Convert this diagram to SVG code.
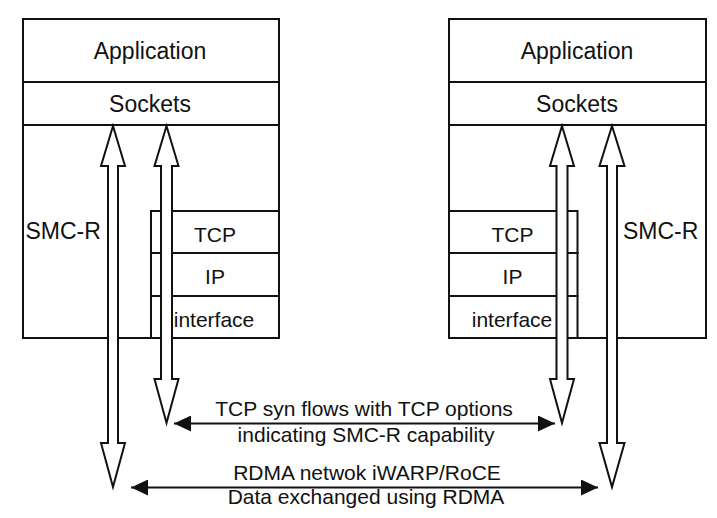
<svg xmlns="http://www.w3.org/2000/svg" width="717" height="518" viewBox="0 0 717 518">
<style>
.box{fill:#fff;stroke:#111;stroke-width:2}
.ln{stroke:#111;stroke-width:2;fill:none}
.hollow{fill:#fff;stroke:#111;stroke-width:2;stroke-linejoin:miter}
.t{font-family:"Liberation Sans",Arial,Helvetica,sans-serif;fill:#111}
.big{font-size:23px}
.mid{font-size:21px}
.c{text-anchor:middle}
.flow{stroke:#111;stroke-width:2;fill:none}
</style>
<defs>
<marker id="ah" viewBox="0 0 17 16" refX="17" refY="8" markerWidth="17" markerHeight="16" markerUnits="userSpaceOnUse" orient="auto-start-reverse">
<path d="M0,0 L17,8 L0,16 Z" fill="#111"/>
</marker>
</defs>
<rect width="717" height="518" fill="#fff"/>

<g id="left-host">
<rect class="box" x="23" y="19" width="256" height="319"/>
</g>
<g id="left-application">
<text class="t big c" x="150" y="59">Application</text>
</g>
<g id="left-sockets">
<line class="ln" x1="23" y1="82" x2="279" y2="82"/>
<line class="ln" x1="23" y1="125" x2="279" y2="125"/>
<text class="t big c" x="150" y="112">Sockets</text>
</g>
<g id="left-smcr">
<text class="t big" x="25.5" y="239">SMC-R</text>
</g>
<g id="left-tcp">
<rect class="box" x="151" y="211" width="128" height="42"/>
<text class="t mid c" x="215" y="242">TCP</text>
</g>
<g id="left-ip">
<rect class="box" x="151" y="253" width="128" height="43"/>
<text class="t mid c" x="215" y="284">IP</text>
</g>
<g id="left-interface">
<rect class="box" x="151" y="296" width="128" height="42"/>
<text class="t mid c" x="214" y="327">interface</text>
</g>

<g id="right-host">
<rect class="box" x="449" y="19" width="257" height="319"/>
</g>
<g id="right-application">
<text class="t big c" x="577" y="59">Application</text>
</g>
<g id="right-sockets">
<line class="ln" x1="449" y1="82" x2="706" y2="82"/>
<line class="ln" x1="449" y1="125" x2="706" y2="125"/>
<text class="t big c" x="577" y="112">Sockets</text>
</g>
<g id="right-smcr">
<text class="t big" x="623" y="239">SMC-R</text>
</g>
<g id="right-tcp">
<rect class="box" x="449" y="211" width="128.5" height="42"/>
<text class="t mid c" x="512.5" y="242">TCP</text>
</g>
<g id="right-ip">
<rect class="box" x="449" y="253" width="128.5" height="43"/>
<text class="t mid c" x="512.5" y="284">IP</text>
</g>
<g id="right-interface">
<rect class="box" x="449" y="296" width="128.5" height="42"/>
<text class="t mid c" x="512" y="327">interface</text>
</g>

<g id="connectors">
<path class="hollow" d="M113,126 L125,166 L118,166 L118,443 L125,443 L113,487 L101,443 L108,443 L108,166 L101,166 Z"/>
<path class="hollow" d="M166.5,126 L178.5,166 L172,166 L172,379 L178.5,379 L166.5,423 L154.5,379 L161,379 L161,166 L154.5,166 Z"/>
<path class="hollow" d="M562,126 L574,166 L567.5,166 L567.5,379 L574,379 L562,423 L550,379 L556.5,379 L556.5,166 L550,166 Z"/>
<path class="hollow" d="M612,126 L624.5,166 L617,166 L617,443 L624.5,443 L612,487 L599.5,443 L607,443 L607,166 L599.5,166 Z"/>
<line class="flow" x1="174" y1="423.5" x2="555" y2="423.5" marker-start="url(#ah)" marker-end="url(#ah)"/>
<line class="flow" x1="131" y1="487.5" x2="598" y2="487.5" marker-start="url(#ah)" marker-end="url(#ah)"/>
<text class="t mid c" x="364" y="416">TCP syn flows with TCP options</text>
<text class="t mid c" x="366" y="442">indicating SMC-R capability</text>
<text class="t mid c" x="367" y="480">RDMA netwok iWARP/RoCE</text>
<text class="t mid c" x="366" y="504">Data exchanged using RDMA</text>
</g>
</svg>
